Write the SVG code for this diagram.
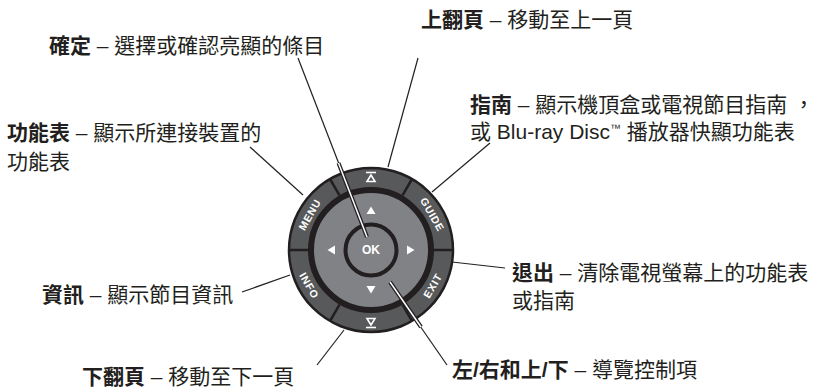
<svg xmlns="http://www.w3.org/2000/svg" width="821" height="392" viewBox="0 0 821 392">
<style>
.t{font-family:"Liberation Sans","Noto Sans CJK TC",sans-serif;font-size:21px;fill:#231f20}
.b{font-weight:bold}
.lbl{font-family:"Liberation Sans",sans-serif;font-weight:bold;font-size:10.5px;fill:#fff;letter-spacing:0.8px;text-anchor:middle;dominant-baseline:central}
.ln{stroke:#231f20;stroke-width:1.2;fill:none}
.dbl{stroke:#231f20;stroke-width:4;fill:none}
.dblw{stroke:#fff;stroke-width:1.5;fill:none}
.div{stroke:#231f20;stroke-width:2.5}
</style>
<rect width="821" height="392" fill="#fff"/>
<g id="remote">
  <circle cx="371" cy="250" r="82" fill="#58595b" stroke="#231f20" stroke-width="2.5"/>
  <line class="div" x1="434" y1="250" x2="453" y2="250"/>
  <line class="div" x1="308" y1="250" x2="289" y2="250"/>
  <line class="div" x1="402.5" y1="195.4" x2="412" y2="179"/>
  <line class="div" x1="339.5" y1="195.4" x2="330" y2="179"/>
  <line class="div" x1="402.5" y1="304.6" x2="412" y2="321"/>
  <line class="div" x1="339.5" y1="304.6" x2="330" y2="321"/>
  <circle cx="371" cy="250" r="60" fill="#808285" stroke="#231f20" stroke-width="6"/>
  <circle cx="371" cy="250" r="25.5" fill="#808285" stroke="#231f20" stroke-width="4"/>
  <text x="371" y="250" class="lbl" style="font-size:12px;letter-spacing:0">OK</text>
  <polygon points="371,206.5 375.5,214 366.5,214" fill="#fff"/>
  <polygon points="371,293.5 375.5,286 366.5,286" fill="#fff"/>
  <polygon points="327.5,250 335,245.5 335,254.5" fill="#fff"/>
  <polygon points="414.5,250 407,245.5 407,254.5" fill="#fff"/>
  <g fill="none" stroke="#fff" stroke-width="1.6">
    <line x1="366" y1="172.5" x2="376" y2="172.5"/>
    <polygon points="371,175 367,181.5 375,181.5"/>
    <line x1="366" y1="327.5" x2="376" y2="327.5"/>
    <polygon points="371,325 367,318.5 375,318.5"/>
  </g>
  <text class="lbl" transform="translate(309.5,214.5) rotate(-60)">MENU</text>
  <text class="lbl" transform="translate(432.5,214.5) rotate(60)">GUIDE</text>
  <text class="lbl" transform="translate(309.5,285.5) rotate(60)">INFO</text>
  <text class="lbl" transform="translate(432.5,285.5) rotate(-60)">EXIT</text>
</g>
<g id="connectors">
  <line class="ln" x1="298" y1="58" x2="339" y2="164"/>
  <line class="dbl" x1="338.5" y1="163" x2="367" y2="237"/>
  <line class="dblw" x1="338.5" y1="163" x2="367" y2="237"/>
  <line class="ln" x1="418" y1="58" x2="388" y2="167"/>
  <line class="ln" x1="490" y1="143" x2="432" y2="192"/>
  <line class="ln" x1="250" y1="147" x2="303" y2="195"/>
  <line class="ln" x1="242" y1="292" x2="290" y2="275"/>
  <line class="ln" x1="317" y1="365" x2="344" y2="330"/>
  <line class="ln" x1="505" y1="268" x2="452" y2="262"/>
  <line class="ln" x1="447" y1="365" x2="420" y2="326"/>
  <line class="dbl" x1="390" y1="282" x2="421" y2="327"/>
  <line class="dblw" x1="390" y1="282" x2="421" y2="327"/>
</g>
<g id="label-ok"><text class="t" x="49" y="52.5"><tspan class="b">確定</tspan> – 選擇或確認亮顯的條目</text></g>
<g id="label-pageup"><text class="t" x="421" y="27"><tspan class="b">上翻頁</tspan> – 移動至上一頁</text></g>
<g id="label-guide"><text class="t" x="470" y="112"><tspan class="b">指南</tspan> – 顯示機頂盒或電視節目指南<tspan dx="6">，</tspan></text><text class="t" x="470" y="139">或 Blu-ray Disc<tspan style="font-size:11px" dy="-7">™</tspan><tspan dy="7"> 播放器快顯功能表</tspan></text></g>
<g id="label-menu"><text class="t" x="7" y="140"><tspan class="b">功能表</tspan> – 顯示所連接裝置的</text><text class="t" x="7" y="169">功能表</text></g>
<g id="label-exit"><text class="t" x="512" y="280"><tspan class="b">退出</tspan> – 清除電視螢幕上的功能表</text><text class="t" x="512" y="308">或指南</text></g>
<g id="label-info"><text class="t" x="42" y="302"><tspan class="b">資訊</tspan> – 顯示節目資訊</text></g>
<g id="label-pagedown"><text class="t" x="82" y="383.5"><tspan class="b">下翻頁</tspan> – 移動至下一頁</text></g>
<g id="label-nav"><text class="t" x="452" y="377"><tspan class="b">左/右和上/下</tspan> – 導覽控制項</text></g>
</svg>
